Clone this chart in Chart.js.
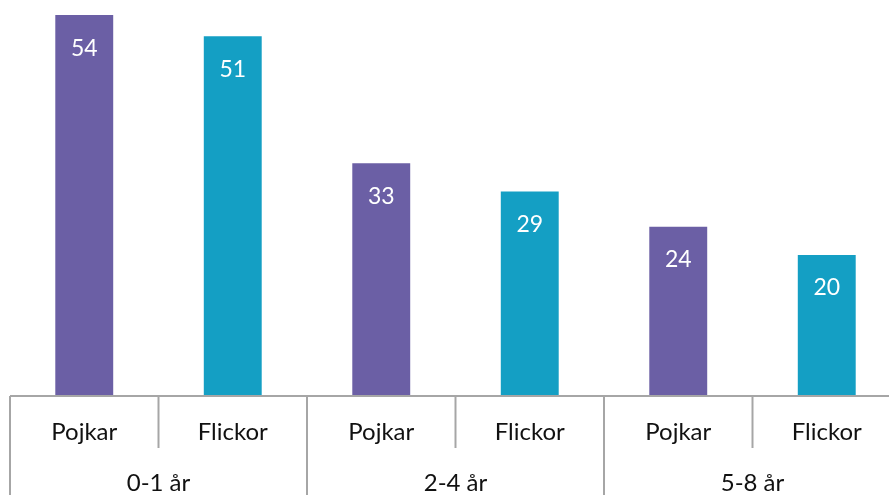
<!DOCTYPE html>
<html>
<head>
<meta charset="utf-8">
<script src="https://cdn.jsdelivr.net/npm/chart.js@4"></script>
<style>
  html, body { margin: 0; padding: 0; background: #fff; overflow: hidden; }
  #wrap { width: 889px; height: 495px; overflow: hidden; }
</style>
</head>
<body>
<div id="wrap"><canvas id="chart" width="902" height="495"></canvas></div>
<script>
const groups = ["0-1 år", "2-4 år", "5-8 år"];
const genders = ["Pojkar", "Flickor"];
const values = [54, 51, 33, 29, 24, 20];
const barColors = ["#6B5FA5", "#149FC4"];

const labels = [];
groups.forEach(g => genders.forEach(s => labels.push(s)));

const FONT = "Lato, 'Open Sans', sans-serif";

// ritar x-axeln med två nivåer av etiketter samt värden i staplarna
const axisPlugin = {
  id: "twoLevelAxis",
  afterDatasetsDraw(chart) {
    const ctx = chart.ctx;
    const x = chart.scales.x;
    const area = chart.chartArea;
    const base = area.bottom;
    const slot = x.getPixelForValue(1) - x.getPixelForValue(0);
    const bottom = chart.height;

    ctx.save();
    ctx.strokeStyle = "#A6A6A6";
    ctx.lineWidth = 2;
    ctx.beginPath();
    ctx.moveTo(area.left, base);
    ctx.lineTo(area.right, base);
    ctx.stroke();

    labels.forEach((lab, i) => {
      const cx = x.getPixelForValue(i);
      const left = cx - slot / 2;
      ctx.beginPath();
      if (i % 2 === 0) {
        ctx.moveTo(left, base);
        ctx.lineTo(left, bottom);
      } else {
        ctx.moveTo(left, base);
        ctx.lineTo(left, base + 52);
      }
      ctx.stroke();
    });
    const last = x.getPixelForValue(labels.length - 1) + slot / 2;
    ctx.beginPath();
    ctx.moveTo(last, base);
    ctx.lineTo(last, bottom);
    ctx.stroke();

    ctx.fillStyle = "#111";
    ctx.font = "24px " + FONT;
    ctx.textAlign = "center";
    ctx.textBaseline = "middle";
    labels.forEach((lab, i) => {
      ctx.fillText(lab, x.getPixelForValue(i), base + 36);
    });
    groups.forEach((g, gi) => {
      const cx = (x.getPixelForValue(gi * 2) + x.getPixelForValue(gi * 2 + 1)) / 2;
      ctx.fillText(g, cx, base + 87);
    });

    // värdeetiketter
    const meta = chart.getDatasetMeta(0);
    ctx.fillStyle = "#fff";
    ctx.font = "23px " + FONT;
    meta.data.forEach((bar, i) => {
      ctx.fillText(String(values[i]), bar.x, bar.y + 33);
    });
    ctx.restore();
  }
};

new Chart(document.getElementById("chart").getContext("2d"), {
  type: "bar",
  data: {
    labels,
    datasets: [{
      data: values,
      backgroundColor: values.map((v, i) => barColors[i % 2]),
      categoryPercentage: 1,
      barPercentage: 0.39
    }]
  },
  options: {
    responsive: false,
    animation: false,
    layout: { padding: { left: 10, right: 1, top: 1, bottom: 99 } },
    plugins: { legend: { display: false }, tooltip: { enabled: false } },
    scales: {
      x: { display: false },
      y: { display: false, min: 0, max: 56 }
    }
  },
  plugins: [axisPlugin]
});
</script>
</body>
</html>
